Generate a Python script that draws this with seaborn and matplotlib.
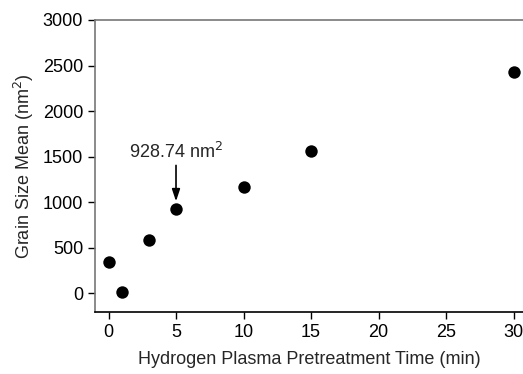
import matplotlib
matplotlib.use("Agg")
from matplotlib import pyplot as plt
import seaborn as sns
import pandas as pd

# data
time_min = [0, 1, 3, 5, 10, 15, 30]
grain_mean = [345, 15, 580, 928.74, 1165, 1560, 2430]
x_ticks = [0, 5, 10, 15, 20, 25, 30]
y_ticks = [0, 500, 1000, 1500, 2000, 2500, 3000]

df = pd.DataFrame({"time": time_min, "grain": grain_mean})

sns.set_theme(style="ticks")
plt.rcParams["font.family"] = ["Liberation Sans", "DejaVu Sans"]

fig = plt.figure(figsize=(5.23, 3.74), dpi=100)
ax = fig.add_axes([95 / 523, 1 - 312 / 374, 1 - 95 / 523, (312 - 20) / 374])

sns.scatterplot(x="time", y="grain", data=df, ax=ax, color="black",
                s=80, edgecolor="black", linewidth=0, zorder=3, clip_on=False)

ax.set_xlim(-1, 30.7)
ax.set_ylim(-205, 3000)
ax.set_xticks(x_ticks)
ax.set_yticks(y_ticks)
ax.tick_params(direction="out", length=5, width=1, labelsize=13, colors="black")
ax.set_xlabel("Hydrogen Plasma Pretreatment Time (min)", fontsize=13, labelpad=7)
ax.set_ylabel("Grain Size Mean (nm$^2$)", fontsize=13, labelpad=5)

ax.spines["right"].set_visible(False)
ax.spines["top"].set_color("#777777")
ax.spines["left"].set_color("#777777")
ax.spines["bottom"].set_color("black")
for s in ["top", "left", "bottom"]:
    ax.spines[s].set_linewidth(1.2)

# annotation for the 5 min point
ax.annotate("928.74 nm$^2$", xy=(5, 1010), xytext=(5, 1440),
            ha="center", va="bottom", fontsize=13,
            arrowprops=dict(arrowstyle="-|>,head_length=0.6,head_width=0.2",
                            color="black", lw=1.2,
                            mutation_scale=12, shrinkA=0, shrinkB=0))

fig.savefig("out.png", dpi=100)
